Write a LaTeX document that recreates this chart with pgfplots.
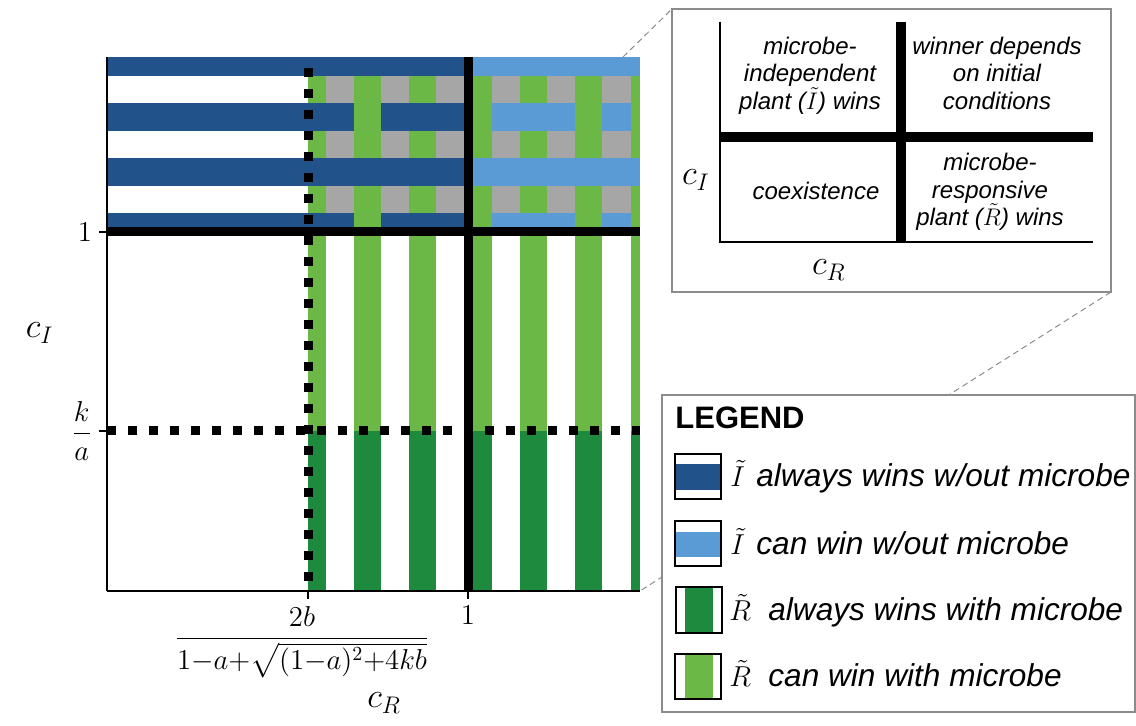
\documentclass[border=0pt]{standalone}
\usepackage{amsmath}
\usepackage{fontspec}
\setmainfont{Liberation Sans}
\usepackage{pgfplots}
\pgfplotsset{compat=1.18}
\definecolor{dblue}{HTML}{22528A}
\definecolor{lblue}{HTML}{5B9BD5}
\definecolor{lgreen}{HTML}{6CB846}
\definecolor{dgreen}{HTML}{1E8A3E}
\definecolor{cgray}{HTML}{A6A6A6}
\definecolor{frame}{HTML}{8C8C8C}
\newcommand{\rect}[5]{\addplot[fill=#5, draw=none, forget plot] coordinates {(#1,#3) (#2,#3) (#2,#4) (#1,#4)} -- cycle;}
\begin{document}
\begin{tikzpicture}
\useasboundingbox (-53.5pt,-67.5pt) rectangle (514.5pt,295.5pt);
% connector lines (pixel coordinates)
\begin{scope}[x=0.5pt,y=-0.5pt,shift={(-53.5pt,295.5pt)}]
\draw[frame, densely dashed, line width=0.5pt] (623,57) -- (672,9);
\draw[frame, densely dashed, line width=0.5pt] (1111,292) -- (640,591);
\end{scope}
\begin{axis}[
  at={(0,0)}, anchor=south west,
  scale only axis, width=266.5pt, height=267pt,
  xmin=0, xmax=533, ymin=0, ymax=534,
  axis x line*=bottom, axis y line*=left,
  axis line style={line width=0.75pt, black},
  axis on top,
  xtick={201,361}, ytick={160,359},
  tick align=outside, major tick length=4pt,
  tick style={black, line width=0.75pt},
  xticklabels={{\hspace*{-6pt}\fontsize{13.7}{16}\selectfont$\dfrac{2b}{1{-}a{+}\sqrt{(1{-}a)^2{+}4kb}}$},{\fontsize{15}{18}\selectfont$1$}},
  yticklabels={{\fontsize{14}{16}\selectfont$\dfrac{k}{a}$},{\fontsize{15}{18}\selectfont$1$}},
  xlabel={$c_R$}, ylabel={$c_I$},
  xlabel style={at={(axis description cs:0.52,-0.21)}, anchor=center, font=\fontsize{18}{20}\selectfont},
  ylabel style={at={(axis description cs:-0.126,0.483)}, anchor=center, rotate=-90, font=\fontsize{18}{20}\selectfont},
]
% gray background of the upper right region
\rect{201}{533}{359}{534}{cgray}
% green vertical stripes: dark below k/a, light above
\rect{201}{219}{0}{160}{dgreen} \rect{201}{219}{160}{534}{lgreen}
\rect{247}{274}{0}{160}{dgreen} \rect{247}{274}{160}{534}{lgreen}
\rect{302}{329}{0}{160}{dgreen} \rect{302}{329}{160}{534}{lgreen}
\rect{358}{385}{0}{160}{dgreen} \rect{358}{385}{160}{534}{lgreen}
\rect{413}{440}{0}{160}{dgreen} \rect{413}{440}{160}{534}{lgreen}
\rect{468}{495}{0}{160}{dgreen} \rect{468}{495}{160}{534}{lgreen}
\rect{524}{533}{0}{160}{dgreen} \rect{524}{533}{160}{534}{lgreen}
% blue horizontal stripes
\rect{0}{361}{515}{534}{dblue} \rect{361}{533}{515}{534}{lblue}
\rect{0}{361}{460}{488}{dblue} \rect{361}{533}{460}{488}{lblue}
\rect{0}{361}{405}{433}{dblue} \rect{361}{533}{405}{433}{lblue}
\rect{0}{361}{359}{378}{dblue} \rect{361}{533}{359}{378}{lblue}
% green stripes woven over the blue stripes
\rect{247}{274}{460}{488}{lgreen} \rect{247}{274}{359}{378}{lgreen}
\rect{358}{385}{460}{488}{lgreen} \rect{358}{385}{359}{378}{lgreen}
\rect{468}{495}{460}{488}{lgreen} \rect{468}{495}{359}{378}{lgreen}
\rect{524}{533}{460}{488}{lgreen} \rect{524}{533}{359}{378}{lgreen}
% boundaries
\addplot[black, line width=4.5pt, forget plot] coordinates {(0,359) (533,359)};
\addplot[black, line width=4.5pt, forget plot] coordinates {(361,0) (361,534)};
\addplot[black, line width=4.5pt, dash pattern=on 4.5pt off 6pt, forget plot] coordinates {(0,160) (533,160)};
\addplot[black, line width=4.5pt, dash pattern=on 4.5pt off 6pt, dash phase=5pt, forget plot] coordinates {(201,534) (201,0)};
\end{axis}
\begin{scope}[x=0.5pt,y=-0.5pt,shift={(-53.5pt,295.5pt)}]
% inset
\draw[frame, line width=0.6pt, fill=white] (672,9) rectangle (1111,292);
\draw[line width=1pt] (720,22) -- (720,242) -- (1093,242);
\draw[line width=5pt] (901,22) -- (901,242);
\draw[line width=5pt] (720,137) -- (1093,137);
\begin{scope}[every node/.style={inner sep=0pt, anchor=base, font=\fontsize{12}{13.8}\selectfont\itshape}]
\node at (810,55) {microbe-};
\node at (810,82) {independent};
\node at (810,110) {plant ($\tilde{I}$) wins};
\node at (997,55) {winner depends};
\node at (997,82) {on initial};
\node at (997,110) {conditions};
\node at (816,200) {coexistence};
\node at (990,171) {microbe-};
\node at (990,199) {responsive};
\node at (990,226) {plant ($\tilde{R}$) wins};
\end{scope}
\node[inner sep=0pt, font=\fontsize{18}{20}\selectfont] at (696,180) {$c_I$};
\node[inner sep=0pt, font=\fontsize{18}{20}\selectfont] at (829,270) {$c_R$};
% legend
\draw[frame, line width=0.6pt, fill=white] (662,395) rectangle (1135,712);
\node[anchor=west, inner sep=0pt, font=\fontsize{15.5}{18}\selectfont\bfseries] at (675,418) {LEGEND};
\fill[dblue] (675,464) rectangle (721,490);
\draw[line width=0.8pt] (675,454) rectangle (721,499);
\fill[lblue] (675,532) rectangle (721,557);
\draw[line width=0.8pt] (675,521) rectangle (721,566);
\fill[dgreen] (685,587) rectangle (713,633);
\draw[line width=0.8pt] (676,587) rectangle (722,633);
\fill[lgreen] (685,654) rectangle (713,699);
\draw[line width=0.8pt] (675,654) rectangle (721,699);
\begin{scope}[every node/.style={anchor=base west, inner sep=0pt, font=\fontsize{15.8}{19}\selectfont}]
\node at (730,487) {$\tilde{I}$};
\node at (756,487) {\itshape always wins w/out microbe};
\node at (730,555) {$\tilde{I}$};
\node at (756,555) {\itshape can win w/out microbe};
\node at (729,621) {$\tilde{R}$};
\node at (768,621) {\itshape always wins with microbe};
\node at (729,687) {$\tilde{R}$};
\node at (768,687) {\itshape can win with microbe};
\end{scope}
\end{scope}
\end{tikzpicture}
\end{document}
